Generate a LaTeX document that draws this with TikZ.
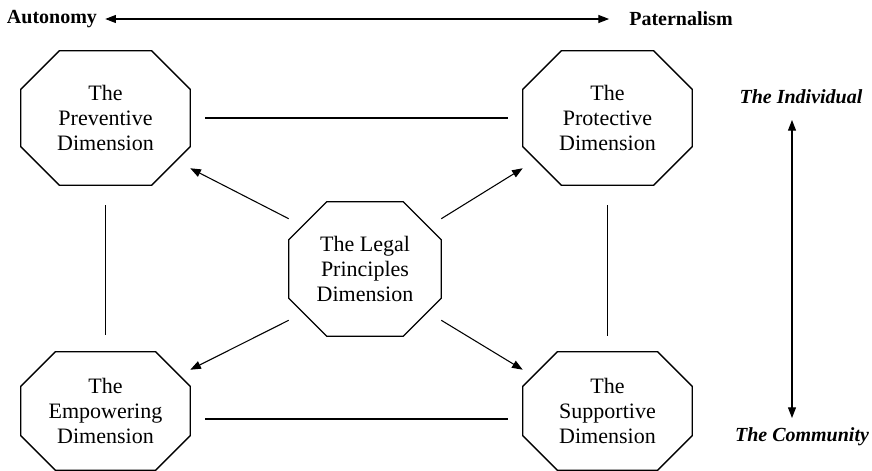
\documentclass[tikz,border=0pt]{standalone}
\usepackage{fontspec}
\setmainfont{Liberation Serif}
\usetikzlibrary{arrows.meta}

\tikzset{
  dimbox/.style={align=center, inner sep=0pt, font=\fontsize{16.5}{18.75}\selectfont},
  axislabel/.style={inner sep=0pt, font=\fontsize{15}{18}\selectfont\bfseries},
  octline/.style={line width=1pt},
  link/.style={line width=1pt, shorten <=11.25pt, shorten >=11.25pt},
  ptr/.style={line width=0.8pt, -{Triangle[length=8pt,width=6pt]}},
  axis/.style={line width=0.8pt, {Triangle[length=8pt,width=6pt]}-{Triangle[length=8pt,width=6pt]}}
}

% octagon round a node: #1 node, #2 corner cut (y axis points down here)
\newcommand\drawoct[2]{%
  \draw[octline] ([xshift=#2]#1.north west) -- ([xshift=-#2]#1.north east) -- ([yshift=#2]#1.north east) -- ([yshift=-#2]#1.south east) -- ([xshift=-#2]#1.south east) -- ([xshift=#2]#1.south west) -- ([yshift=-#2]#1.south west) -- ([yshift=#2]#1.north west) -- cycle;}

\begin{document}
\begin{tikzpicture}[x=0.75pt,y=0.75pt,yscale=-1]
  \useasboundingbox (0,0) rectangle (872,471);

  % Text Node
  \node[axislabel] (auto) at (52,19) {Autonomy};
  % Text Node
  \node[axislabel] (pat) at (681,19) {Paternalism};
  % Text Node
  \node[axislabel, font=\fontsize{15}{18}\selectfont\bfseries\itshape] (indiv) at (801,97) {The Individual};
  % Text Node
  \node[axislabel, font=\fontsize{15}{18}\selectfont\bfseries\itshape] (comm) at (802,437) {The Community};

  %Shape: Octagons
  \node[dimbox, minimum width=126.75pt, minimum height=100.5pt] (prev) at (105.5,118) {The\\Preventive\\Dimension};
  \node[dimbox, minimum width=126.75pt, minimum height=100.5pt] (prot) at (607.5,118) {The\\Protective\\Dimension};
  \node[dimbox, minimum width=114pt, minimum height=100.5pt] (legal) at (365,269) {The Legal\\Principles\\Dimension};
  \node[dimbox, minimum width=126.75pt, minimum height=88.5pt] (emp) at (105.5,411) {The\\Empowering\\Dimension};
  \node[dimbox, minimum width=126.75pt, minimum height=88.5pt] (sup) at (607.5,411) {The\\Supportive\\Dimension};
  \foreach \n in {prev,prot} {\drawoct{\n}{29pt}}
  \drawoct{legal}{28.5pt}
  \foreach \n in {emp,sup} {\drawoct{\n}{26pt}}

  %Straight Lines
  \draw[link] (prev.east) -- (prot.west);
  \draw[link] ([yshift=6pt]emp.east) -- ([yshift=6pt]sup.west);
  \draw[link, shorten <=15pt, shorten >=12.75pt] (prev.south) -- (emp.north);
  \draw[link, shorten <=15pt, shorten >=12pt] (prot.south) -- (sup.north);

  %Arrows from the centre
  \draw[ptr] ([yshift=12.75pt]legal.north west) -- ([yshift=-12.75pt]prev.south east);
  \draw[ptr] ([yshift=12.75pt]legal.north east) -- ([yshift=-12.75pt]prot.south west);
  \draw[ptr] ([yshift=-12pt]legal.south west) -- ([yshift=13.5pt]emp.north east);
  \draw[ptr] ([yshift=-12pt]legal.south east) -- ([yshift=13.5pt]sup.north west);

  %Axes
  \draw[axis, shorten <=6pt, shorten >=15pt] (auto.east) -- (pat.west);
  \coordinate (vtop) at (792,120);
  \coordinate (vbot) at (792,418);
  \draw[axis] (vtop) -- (vbot);

\end{tikzpicture}
\end{document}
